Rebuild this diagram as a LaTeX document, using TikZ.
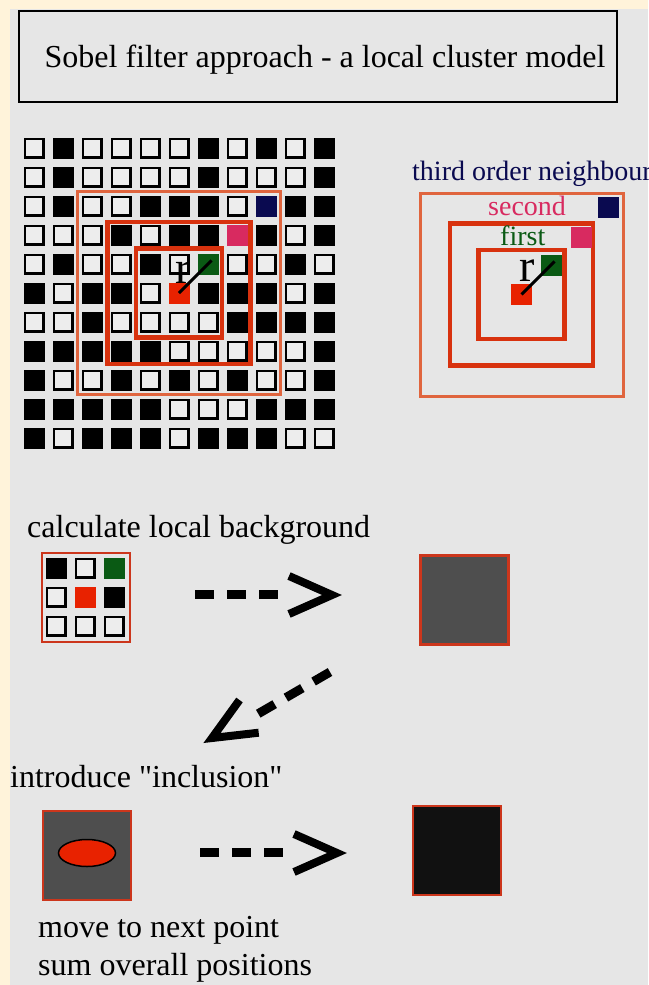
\documentclass[tikz,border=0pt]{standalone}
\usepackage{fontspec}
\setmainfont{Liberation Serif}[Ligatures=TeXOff]
\usetikzlibrary{positioning,shapes.geometric}

\definecolor{slidebg}{HTML}{E6E6E6}
\definecolor{slideedge}{HTML}{FFF3DA}
\definecolor{cellbg}{HTML}{EDEDED}
\definecolor{navycell}{HTML}{0A0A50}
\definecolor{pinkcell}{HTML}{D82A60}
\definecolor{greencell}{HTML}{0A5A14}
\definecolor{redcell}{HTML}{E82200}
\definecolor{ringout}{HTML}{E0653E}
\definecolor{ringin}{HTML}{D8320E}
\definecolor{boxred}{HTML}{CC361C}
\definecolor{localgray}{HTML}{4E4E4E}
\definecolor{sumblack}{HTML}{111111}

\newcommand{\txtbig}{\fontsize{32}{38}\selectfont}
\newcommand{\txtmid}{\fontsize{28}{34}\selectfont}
\newcommand{\txtr}{\fontsize{46}{50}\selectfont}

\tikzset{
  sq0/.style={draw=black, line width=2.5pt, fill=cellbg, minimum size=18.5pt, inner sep=0pt},
  sq1/.style={fill=black, minimum size=21pt, inner sep=0pt},
  sq2/.style={sq1, fill=navycell},
  sq3/.style={sq1, fill=pinkcell},
  sq4/.style={sq1, fill=greencell},
  sq5/.style={sq1, fill=redcell},
  ring3/.style={draw=ringout, line width=3pt, inner sep=0pt, minimum size=203pt},
  ring2/.style={draw=ringin, line width=4.5pt, inner sep=0pt, minimum width=143pt, minimum height=142pt},
  ring1/.style={draw=ringin, line width=4.5pt, inner sep=0pt, minimum width=86pt, minimum height=89pt},
  radius/.style={line width=3pt, shorten >=-5pt},
  txt/.style={anchor=base west, inner sep=0pt, font=\txtbig},
  rtxt/.style={anchor=base west, inner sep=0pt, font=\txtmid},
  rlabel/.style={anchor=base west, inner sep=0pt, font=\txtr, text height=22pt, text depth=0pt},
  titlebox/.style={draw=black, line width=2.3pt, minimum width=597.5pt, minimum height=90.7pt,
    inner sep=0pt, text depth=0pt, font=\txtbig},
  tile/.style={inner sep=0pt, minimum width=88pt, minimum height=89pt},
  dashshaft/.style={line width=9pt, dash pattern=on 19pt off 13pt},
  barb/.style={line width=8pt, line join=miter},
}

\begin{document}
\begin{tikzpicture}[x=1pt, y=-1pt]
  \useasboundingbox (0,0) rectangle (648,985);
  \fill[slideedge] (0,0) rectangle (648,985);
  \fill[slidebg] (10,9) rectangle (648,985);

  % title
  \node[titlebox] (title) at (318,56.5) {\hspace*{14pt}Sobel filter approach - a local cluster model};

  % cluster grid, 0 open, 1 black, 2..5 neighbours
  \foreach \row [count=\r from 0] in {
      {0,1,0,0,0,0,1,0,1,0,1},
      {0,1,0,0,0,0,1,0,0,0,1},
      {0,1,0,0,1,1,1,0,2,1,1},
      {0,0,0,1,0,1,1,3,1,0,1},
      {0,1,0,0,1,0,4,0,0,1,0},
      {1,0,1,1,0,5,1,1,1,0,1},
      {0,0,1,0,0,0,0,1,1,1,1},
      {1,1,1,1,1,0,0,0,0,0,1},
      {1,0,0,1,0,1,0,1,0,0,1},
      {1,1,1,1,1,0,0,0,1,1,1},
      {1,0,1,1,1,0,1,1,1,0,0}} {
    \foreach \v [count=\c from 0] in \row
      \node[sq\v] (g-\r-\c) at ({34+29*\c},{148+29*\r}) {};
  }
  \node[ring3] (g-third) at (g-5-5) {};
  \node[ring2] (g-second) at (g-5-5) {};
  \node[ring1] (g-first) at (g-5-5) {};
  \node[rlabel] (g-r) at (175,283) {r};
  \draw[radius] (g-5-5.center) -- (g-4-6.center);

  % neighbour orders
  \node[rtxt, text=navycell] (lbl-third) at (412,180) {third order neighbour};
  \node[ring3] (n-third) at (521.5,294.5) {};
  \node[ring2] (n-second) at (n-third) {};
  \node[ring1] (n-first) at (n-third) {};
  \node[sq5] (n-red) at (n-third) {};
  \node[sq4] (n-green) at (551,265) {};
  \node[sq3] (n-pink) at (581,237) {};
  \node[sq2] (n-navy) at (608,207) {};
  \node[rtxt, text=pinkcell] (lbl-second) at (488,215) {second};
  \node[rtxt, text=greencell] (lbl-first) at (500,245) {first};
  \node[rlabel] (n-r) at (519,281) {r};
  \draw[radius] (n-red.center) -- (n-green.center);

  % local background
  \node[txt] (lbl-calc) at (27,537) {calculate local background};
  \node[tile, draw=boxred, line width=2pt] (loc) at (86,597.5) {};
  \foreach \row [count=\r from 0] in {{1,0,4},{0,5,1},{0,0,0}} {
    \foreach \v [count=\c from 0] in \row
      \node[sq\v] (l-\r-\c) at ({56+29*\c},{568+29*\r}) {};
  }
  \node[tile, draw=boxred, line width=3pt, fill=localgray] (bg) at (464,600) {};

  \coordinate (a1s) at (195,594);
  \coordinate (a1e) at (278,594);
  \coordinate (a1t) at (332,595);
  \coordinate (a1u) at (289,576);
  \coordinate (a1d) at (289,614);
  \draw[dashshaft] (a1s) -- (a1e);
  \draw[barb] (a1u) -- (a1t) -- (a1d);

  \coordinate (a2s) at (330,672);
  \coordinate (a2e) at (256,715);
  \coordinate (a2t) at (212,738);
  \coordinate (a2u) at (239.5,700);
  \coordinate (a2d) at (258.7,732.7);
  \draw[dashshaft] (a2s) -- (a2e);
  \draw[barb] (a2u) -- (a2t) -- (a2d);

  % inclusion
  \node[txt] (lbl-incl) at (10,787) {introduce "inclusion"};
  \node[tile, draw=boxred, line width=2pt, fill=localgray] (incl) at (87,855) {};
  \node[ellipse, draw=black, line width=1.5pt, fill=redcell, minimum width=57pt,
    minimum height=27pt, inner sep=0pt] (blob) at (87,853) {};
  \node[tile, draw=boxred, line width=2.5pt, fill=sumblack] (sum) at (457,850.5) {};

  \coordinate (a3s) at (200,852);
  \coordinate (a3e) at (283,852);
  \coordinate (a3t) at (337,853);
  \coordinate (a3u) at (294,834);
  \coordinate (a3d) at (294,872);
  \draw[dashshaft] (a3s) -- (a3e);
  \draw[barb] (a3u) -- (a3t) -- (a3d);

  \node[txt] (lbl-move) at (38,937) {move to next point};
  \node[txt] (lbl-sum) at (38,975) {sum overall positions};
\end{tikzpicture}
\end{document}
